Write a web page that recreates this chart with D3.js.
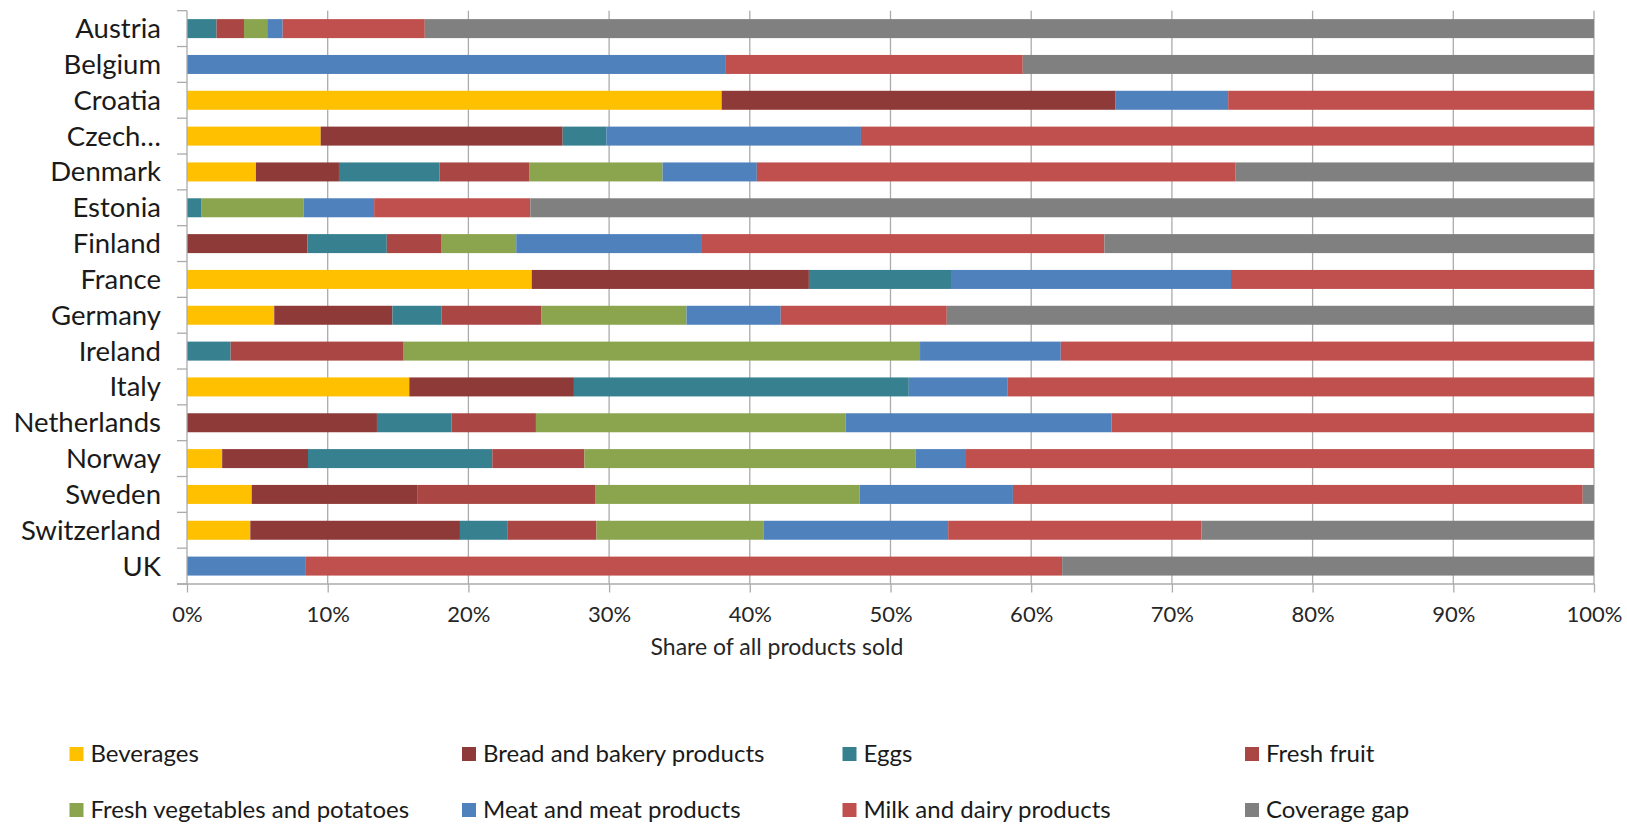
<!DOCTYPE html>
<html>
<head>
<meta charset="utf-8">
<script src="https://cdn.jsdelivr.net/npm/d3@7"></script>
<style>
  html, body { margin: 0; padding: 0; background: #fff; }
  svg { display: block; font-family: Lato, "Open Sans", sans-serif; }
</style>
</head>
<body>
<svg id="chart" width="1627" height="824"></svg>
<script>
const categories = ["Austria","Belgium","Croatia","Czech\u2026","Denmark","Estonia","Finland","France","Germany","Ireland","Italy","Netherlands","Norway","Sweden","Switzerland","UK"];

const seriesNames = ["Beverages","Bread and bakery products","Eggs","Fresh fruit","Fresh vegetables and potatoes","Meat and meat products","Milk and dairy products","Coverage gap"];
const seriesColors = ["#FFC000","#8E3A38","#37808F","#AA4644","#8BA54F","#4F81BD","#C0504D","#808080"];

// values in % share, one per category (same order as categories)
const beverages  = [0, 0, 38.0, 9.5, 4.9, 0, 0, 24.5, 6.2, 0, 15.8, 0, 2.5, 4.6, 4.5, 0];
const bread      = [0, 0, 28.0, 17.2, 5.9, 0, 8.55, 19.7, 8.4, 0, 11.7, 13.5, 6.1, 11.8, 14.9, 0];
const eggs       = [2.1, 0, 0, 3.1, 7.15, 1.0, 5.65, 10.1, 3.5, 3.1, 23.8, 5.3, 13.1, 0, 3.4, 0];
const freshFruit = [1.95, 0, 0, 0, 6.4, 0, 3.9, 0, 7.1, 12.3, 0, 6.0, 6.55, 12.6, 6.3, 0];
const vegetables = [1.65, 0, 0, 0, 9.45, 7.3, 5.3, 0, 10.3, 36.7, 0, 22.0, 23.55, 18.8, 11.9, 0];
const meat       = [1.1, 38.3, 8.0, 18.1, 6.7, 5.0, 13.2, 19.9, 6.7, 10.0, 7.0, 18.9, 3.5, 10.9, 13.1, 8.4];
const milk       = [10.1, 21.1, 26.0, 52.1, 34.0, 11.1, 28.6, 25.8, 11.8, 37.9, 41.7, 34.3, 44.7, 40.5, 18.0, 53.8];
const gap        = [83.1, 40.6, 0, 0, 25.5, 75.6, 34.8, 0, 46.0, 0, 0, 0, 0, 0.8, 27.9, 37.8];

const xTicks = [0,10,20,30,40,50,60,70,80,90,100];
const xTickLabels = ["0%","10%","20%","30%","40%","50%","60%","70%","80%","90%","100%"];
const xTitle = "Share of all products sold";

const seriesValues = [beverages, bread, eggs, freshFruit, vegetables, meat, milk, gap];
const keys = seriesNames;
const table = categories.map((c, i) => {
  const row = { category: c };
  keys.forEach((k, j) => row[k] = seriesValues[j][i]);
  return row;
});

const svg = d3.select("#chart");
const pLeft = 187, pRight = 1594, pTop = 10.7, pBottom = 584;

const x = d3.scaleLinear().domain([0, 100]).range([pLeft, pRight]);
const y = d3.scaleBand().domain(categories).range([pTop, pBottom]).paddingInner(0.47).paddingOuter(0.235);
const color = d3.scaleOrdinal().domain(keys).range(seriesColors);

// gridlines
svg.append("g").selectAll("line").data(xTicks.slice(1)).join("line")
  .attr("x1", d => x(d)).attr("x2", d => x(d))
  .attr("y1", pTop).attr("y2", pBottom)
  .attr("stroke", "#ABABAB").attr("stroke-width", 1.3);

// stacked bars
const stack = d3.stack().keys(keys)(table);
svg.append("g").selectAll("g").data(stack).join("g")
  .attr("fill", d => color(d.key))
  .selectAll("rect").data(d => d).join("rect")
  .attr("x", d => x(d[0]))
  .attr("width", d => Math.max(0, x(d[1]) - x(d[0])))
  .attr("y", d => y(d.data.category))
  .attr("height", y.bandwidth());

// x axis
const xAxis = svg.append("g").attr("transform", `translate(0,${pBottom})`)
  .call(d3.axisBottom(x).tickValues(xTicks).tickFormat((d, i) => xTickLabels[i]).tickSize(8.5).tickPadding(14));
xAxis.select(".domain").remove();
xAxis.selectAll(".tick line").attr("stroke", "#ABABAB").attr("stroke-width", 1.3);
xAxis.selectAll(".tick text").attr("font-size", 22).attr("fill", "#262626").attr("font-family", "Lato, sans-serif");
svg.append("line").attr("x1", 177).attr("x2", pRight).attr("y1", pBottom).attr("y2", pBottom)
  .attr("stroke", "#ABABAB").attr("stroke-width", 1.3);

// y axis
const boundaries = d3.range(categories.length + 1).map(i => pTop + i * (pBottom - pTop) / categories.length);
svg.append("line").attr("x1", pLeft).attr("x2", pLeft).attr("y1", pTop).attr("y2", pBottom)
  .attr("stroke", "#ABABAB").attr("stroke-width", 1.3);
svg.append("g").selectAll("line").data(boundaries).join("line")
  .attr("x1", 177).attr("x2", pLeft).attr("y1", d => d).attr("y2", d => d)
  .attr("stroke", "#ABABAB").attr("stroke-width", 1.3);
svg.append("g").selectAll("text").data(categories).join("text")
  .attr("x", 161).attr("y", d => y(d) + y.bandwidth() / 2 + 9.5)
  .attr("text-anchor", "end").attr("font-size", 27.5).attr("fill", "#1a1a1a")
  .text(d => d);

// x title
svg.append("text").attr("x", 777).attr("y", 655).attr("text-anchor", "middle")
  .attr("font-size", 23).attr("fill", "#262626").text(xTitle);

// legend
const colX = [69.5, 462, 842.5, 1245];
const rowY = [754, 810];
const leg = svg.append("g").selectAll("g").data(keys).join("g")
  .attr("transform", (d, i) => `translate(${colX[i % 4]},${rowY[Math.floor(i / 4)]})`);
leg.append("rect").attr("x", 0).attr("y", -7).attr("width", 14).attr("height", 14).attr("fill", d => color(d));
leg.append("text").attr("x", 21).attr("y", 8).attr("font-size", 24).attr("fill", "#1a1a1a").text(d => d);
</script>
</body>
</html>
